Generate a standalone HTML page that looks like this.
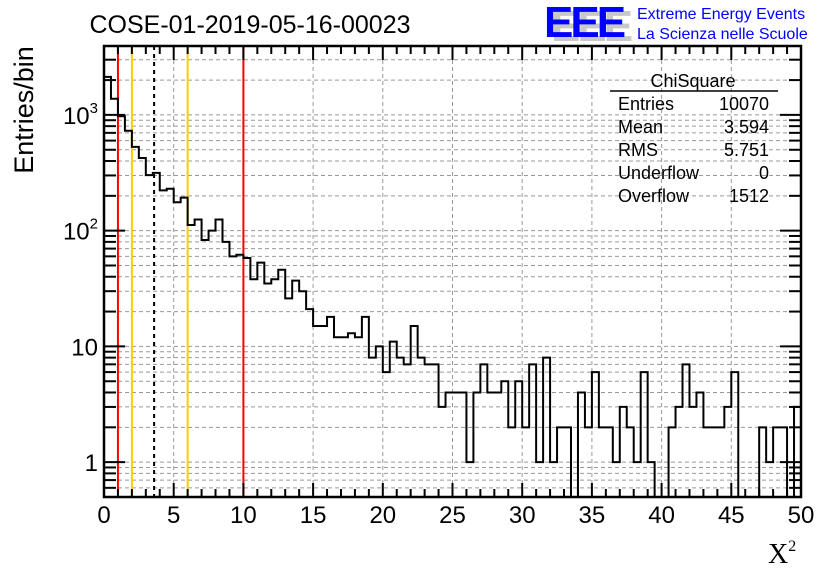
<!DOCTYPE html>
<html><head><meta charset="utf-8"><style>
html,body{margin:0;padding:0;background:#fff;}
svg{display:block;font-family:"Liberation Sans",sans-serif;}
</style></head><body>
<svg id="chart" width="836" height="572" viewBox="0 0 836 572">
<rect x="0" y="0" width="836" height="572" fill="#fff"/>
<text x="250" y="33" font-size="25" text-anchor="middle">COSE-01-2019-05-16-00023</text>
<g>
<text x="551" y="41" font-size="44" font-weight="bold" fill="#c8c8c8" letter-spacing="-3">EEE</text>
<text x="544" y="37" font-size="44" font-weight="bold" fill="#0000ff" letter-spacing="-3">EEE</text>
<text x="637" y="19" font-size="16" fill="#0000ff">Extreme Energy Events</text>
<text x="637" y="39" font-size="16" fill="#0000ff">La Scienza nelle Scuole</text>
</g>
<g id="grid"></g>
<g id="vlines"></g>
<g id="hist"></g>
<g id="axes"></g>
<g font-size="18">
<text x="693" y="87" text-anchor="middle">ChiSquare</text>
<line x1="610" y1="91" x2="778" y2="91" stroke="#000" stroke-width="1.5"/>
<text x="618" y="110">Entries</text><text x="769" y="110" text-anchor="end">10070</text>
<text x="618" y="133">Mean</text><text x="769" y="133" text-anchor="end">3.594</text>
<text x="618" y="156">RMS</text><text x="769" y="156" text-anchor="end">5.751</text>
<text x="618" y="179">Underflow</text><text x="769" y="179" text-anchor="end">0</text>
<text x="618" y="202">Overflow</text><text x="769" y="202" text-anchor="end">1512</text>
</g>
<text transform="translate(33,110) rotate(-90)" font-size="27" text-anchor="middle">Entries/bin</text>
<text x="768" y="563" font-size="28" font-family="Liberation Serif,serif">X<tspan font-size="16" dy="-12">2</tspan></text>
</svg>
<script>
const binWidth = 0.5;
const counts = [2130,1380,975,730,530,424,302,316,223,230,176,193,112,125,83,100,125,80,60,62,
58,38,53,35,38,46,26,37,30,21,15,15,18,12,12,13,12,18,8,10,
6,11,8,7,15,8,7,7,3,4,4,4,1,4,7,4,4,5,2,5,
2,7,1,8,1,2,2,0,4,2,6,2,2,1,3,2,1,6,1,0,
0,2,3,7,3,4,2,2,2,3,6,0,0,0,2,1,2,2,0,3];
const xTicks = [0,5,10,15,20,25,30,35,40,45,50];
const yDecades = [1,10,100,1000];
const yDecadeLabels = ["1","10","10²","10³"];
const markerLines = [{x:1,c:"#ff0000",d:""},{x:2,c:"#ffcc00",d:""},{x:3.594,c:"#000",d:"4,4"},{x:6,c:"#ffcc00",d:""},{x:10,c:"#ff0000",d:""}];

const L=104,R=801,T=46,B=497, xmin=0,xmax=50, ymin=0.5, ymax=3940;
const sx=v=>L+(v-xmin)/(xmax-xmin)*(R-L);
const sy=v=>B-(Math.log10(v)-Math.log10(ymin))/(Math.log10(ymax)-Math.log10(ymin))*(B-T);
const NS="http://www.w3.org/2000/svg";
function mk(p,tag,a){const e=document.createElementNS(NS,tag);for(const k in a)e.setAttribute(k,a[k]);p.appendChild(e);return e;}
const grid=document.getElementById('grid'),axes=document.getElementById('axes'),hist=document.getElementById('hist'),vl=document.getElementById('vlines');
for(let d=0.1;d<=1000;d*=10){for(let m=1;m<=9;m++){const v=d*m;if(v<ymin||v>ymax)continue;const y=sy(v);
 const g=mk(grid,'line',{x1:L,x2:R,y1:y,y2:y,stroke:'#999','stroke-dasharray':'4,3','stroke-width':1});
 
 
 const t=mk(axes,'line',{x1:L,x2:L+(m===1?21:12),y1:y,y2:y,stroke:'#000','stroke-width':2});
 
 
 const t2=mk(axes,'line',{x1:R,x2:R-(m===1?21:12),y1:y,y2:y,stroke:'#000','stroke-width':2});
 
 
}}
xTicks.forEach(v=>{const x=sx(v);
 if(v>0&&v<50){const g=mk(grid,'line',{x1:x,x2:x,y1:T,y2:B,stroke:'#999','stroke-dasharray':'4,3','stroke-width':1});
 
 }
 const lb=mk(axes,'text',{x:x,y:523,'font-size':24,'text-anchor':'middle'});lb.textContent=v;
 
 
});
for(let v=0;v<=50;v+=1){const x=sx(v),len=v%5===0?14:8;
 const t=mk(axes,'line',{x1:x,x2:x,y1:B,y2:B-len,stroke:'#000','stroke-width':2});
 
 
 const t2=mk(axes,'line',{x1:x,x2:x,y1:T,y2:T+len,stroke:'#000','stroke-width':2});
 
 }
yDecades.forEach((v,i)=>{const lb=mk(axes,'text',{x:98,y:sy(v)+9,'font-size':24,'text-anchor':'end'});
 const s=yDecadeLabels[i];
 if(s.length>2&&s!=="10"){lb.textContent="10";const ts=mk(lb,'tspan',{'font-size':15,dy:-11});ts.textContent=s==="10²"?"2":"3";}
 else lb.textContent=s;
 
 });
markerLines.forEach(m=>{const x=sx(m.x);const l=mk(vl,'line',{x1:x,x2:x,y1:T,y2:B,stroke:m.c,'stroke-width':2});
 if(m.d)l.setAttribute('stroke-dasharray',m.d);
 
 });
let d='';
counts.forEach((c,i)=>{const x0=sx(i*binWidth),x1=sx((i+1)*binWidth);const y=c>0?Math.max(T,sy(c)):B+10;
 if(i===0)d+=`M${x0},${y}`;else d+=` L${x0},${y}`;d+=` L${x1},${y}`;});
mk(hist,'clipPath',{id:'clip'});mk(document.getElementById('clip'),'rect',{x:L,y:T,width:R-L,height:B-T});
const p=mk(hist,'path',{d:d,fill:'none',stroke:'#000','stroke-width':2,'clip-path':'url(#clip)'});


const fr=mk(axes,'rect',{x:L,y:T,width:R-L,height:B-T,fill:'none',stroke:'#000','stroke-width':2.5});


</script>
</body></html>
